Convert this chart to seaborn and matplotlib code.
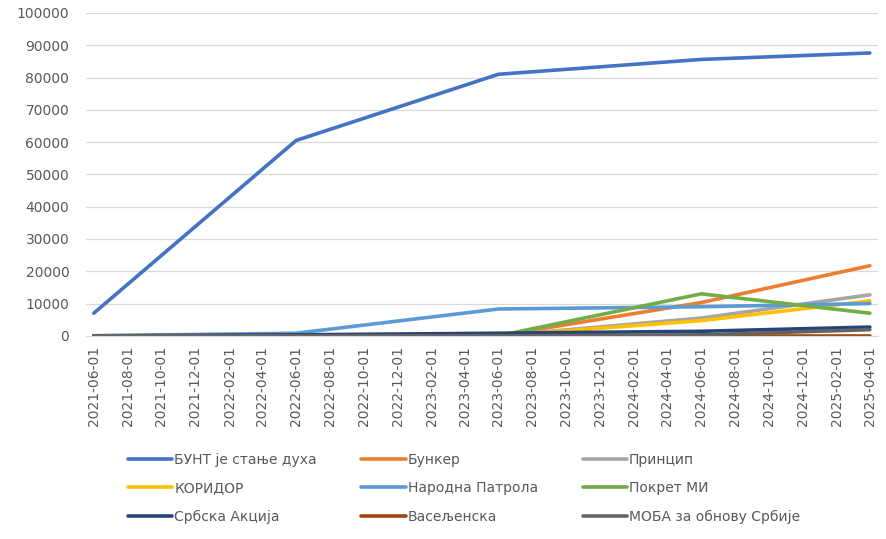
import pandas as pd
import matplotlib
matplotlib.use("Agg")
import matplotlib.pyplot as plt
import matplotlib.dates as mdates
import seaborn as sns

# data points
dates = ["2021-06-01", "2022-06-01", "2023-06-01", "2024-06-01", "2025-04-01"]

bunt = [7000, 60500, 81000, 85600, 87600]
bunker = [0, 0, 0, 10300, 21700]
princip = [0, 0, 0, 5500, 12700]
koridor = [0, 0, 0, 4700, 10800]
narodna_patrola = [0, 800, 8300, 9000, 10000]
pokret_mi = [0, 0, 0, 13000, 7000]
srbska_akcija = [0, 300, 800, 1400, 2700]
vaseljenska = [0, 0, 0, 0, 0]
moba = [0, 0, 0, 300, 1900]

series_names = ["БУНТ је стање духа", "Бункер", "Принцип",
                "КОРИДОР", "Народна Патрола", "Покрет МИ",
                "Србска Акција", "Васељенска", "МОБА за обнову Србије"]
series_values = [bunt, bunker, princip, koridor, narodna_patrola,
                 pokret_mi, srbska_akcija, vaseljenska, moba]

colors = ["#4472C4", "#ED7D31", "#A5A5A5", "#FFC000", "#5B9BD5",
          "#70AD47", "#264478", "#9E480E", "#636363"]

tick_dates = pd.date_range("2021-06-01", "2025-04-01", freq="2MS")

rows = []
for name, vals in zip(series_names, series_values):
    for d, v in zip(dates, vals):
        rows.append({"date": pd.Timestamp(d), "value": v, "series": name})
df = pd.DataFrame(rows)

sns.set_style("white")
plt.rcParams["font.family"] = ["DejaVu Sans"]

fig = plt.figure(figsize=(8.87, 5.39), dpi=100)
ax = fig.add_axes([0.097, 0.377, 0.893, 0.599])

sns.lineplot(data=df, x="date", y="value", hue="series",
             hue_order=series_names, palette=colors,
             linewidth=2.6, ax=ax, legend=False)

ax.set_ylim(0, 100000)
ax.set_yticks(range(0, 100001, 10000))
ax.set_xlim(pd.Timestamp("2021-05-18"), pd.Timestamp("2025-04-16"))
ax.set_xticks(tick_dates)
ax.xaxis.set_major_formatter(mdates.DateFormatter("%Y-%m-%d"))
ax.tick_params(axis="x", rotation=90, labelsize=10, colors="#595959",
               length=4, width=0.8, color="#d9d9d9")
ax.tick_params(axis="y", labelsize=10, colors="#595959", length=0, pad=12)
ax.yaxis.grid(True, color="#d9d9d9", linewidth=0.9)
ax.set_axisbelow(True)
ax.set_xlabel("")
ax.set_ylabel("")
for s in ["top", "right", "left"]:
    ax.spines[s].set_visible(False)
ax.spines["bottom"].set_color("#d9d9d9")

# legend is filled column by column, so reorder to read row by row
order = [0, 3, 6, 1, 4, 7, 2, 5, 8]
handles = [plt.Line2D([], [], color=colors[i], linewidth=2.6) for i in order]
labels = [series_names[i] for i in order]
fig.legend(handles, labels, loc="lower left",
           bbox_to_anchor=(0.13, 0.005), ncol=3, frameon=False,
           fontsize=10, handlelength=3.2, handletextpad=0.15,
           columnspacing=3.2, labelspacing=1.05, labelcolor="#595959")

fig.savefig("out.png", dpi=100)
